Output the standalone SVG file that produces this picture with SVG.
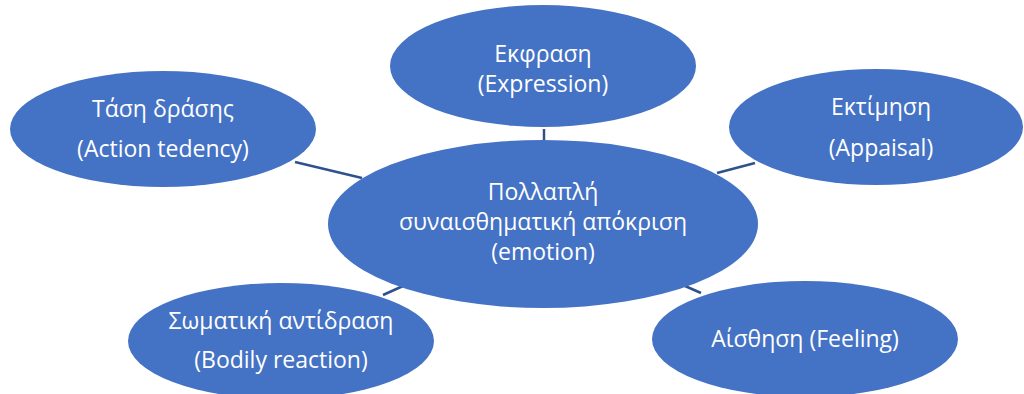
<svg xmlns="http://www.w3.org/2000/svg" width="1024" height="394" viewBox="0 0 1024 394">
<style>
.n{fill:#4472C4}
.t{fill:#fff;font-family:"Open Sans","DejaVu Sans",sans-serif;font-size:23px;text-anchor:middle}
.c{stroke:#2F528F;stroke-width:2.5;fill:none}
</style>
<rect width="1024" height="394" fill="#fff"/>
<g id="connectors">
<line class="c" x1="544" y1="129" x2="544" y2="141"/>
<line class="c" x1="295" y1="162" x2="362" y2="178"/>
<line class="c" x1="717" y1="173" x2="755" y2="163"/>
<line class="c" x1="383" y1="295" x2="403" y2="286"/>
<line class="c" x1="685" y1="286" x2="701" y2="293"/>
</g>
<g id="n-expression">
<ellipse class="n" cx="543" cy="66" rx="153" ry="61"/>
<text class="t" x="543" y="62">Εκφραση</text>
<text class="t" x="543" y="92">(Expression)</text>
</g>
<g id="n-action">
<ellipse class="n" cx="163" cy="129" rx="153" ry="58"/>
<text class="t" x="163" y="117">Τάση δράσης</text>
<text class="t" x="163" y="157">(Action tedency)</text>
</g>
<g id="n-appraisal">
<ellipse class="n" cx="876" cy="127" rx="147" ry="58"/>
<text class="t" x="881" y="115">Εκτίμηση</text>
<text class="t" x="881" y="156">(Appaisal)</text>
</g>
<g id="n-emotion">
<ellipse class="n" cx="543" cy="224" rx="215" ry="84"/>
<text class="t" x="543" y="200">Πολλαπλή</text>
<text class="t" x="543" y="230">συναισθηματική απόκριση</text>
<text class="t" x="543" y="260">(emotion)</text>
</g>
<g id="n-bodily">
<ellipse class="n" cx="281" cy="341" rx="153" ry="58"/>
<text class="t" x="281" y="329">Σωματική αντίδραση</text>
<text class="t" x="281" y="368">(Bodily reaction)</text>
</g>
<g id="n-feeling">
<ellipse class="n" cx="805" cy="339" rx="153" ry="58"/>
<text class="t" x="805" y="347">Αίσθηση (Feeling)</text>
</g>
</svg>
